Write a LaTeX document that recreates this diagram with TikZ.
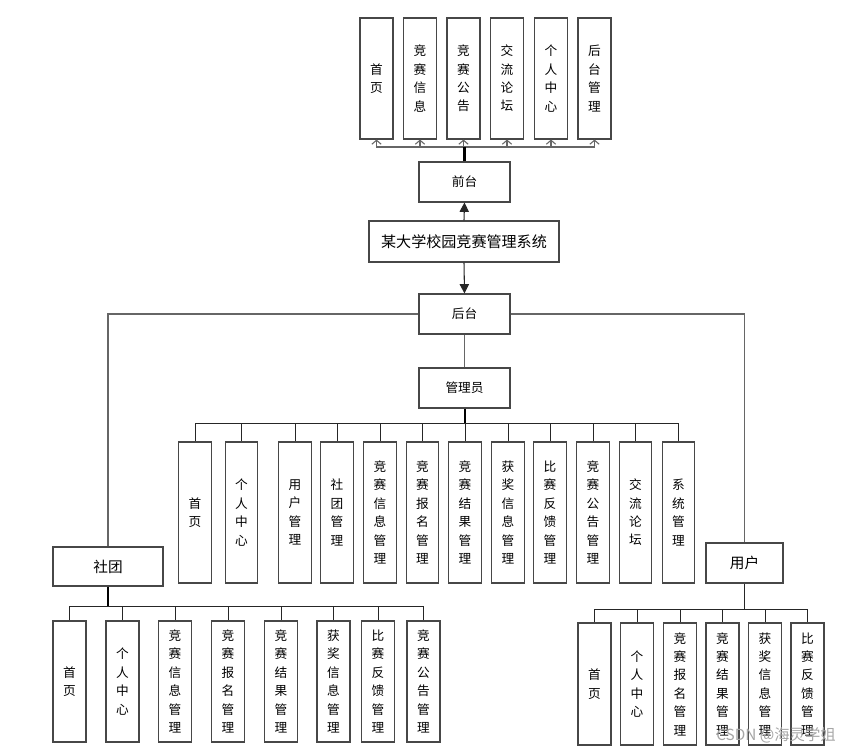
\documentclass[tikz,border=0pt]{standalone}
\usepackage{fontspec}
\setmainfont{Noto Sans CJK SC}
\usetikzlibrary{arrows.meta,calc}
\begin{document}
\begin{tikzpicture}[x=0.75pt,y=-0.75pt,
  box/.style={draw=black!72,line width=0.8pt,fill=white,inner sep=0pt,align=center,
    font=\fontsize{9.5}{13.8}\selectfont},
  topbox/.style={box,minimum width=24.75pt,minimum height=90.75pt},
  adminbox/.style={box,minimum width=24.4pt,minimum height=105.75pt},
  clubbox/.style={box,minimum width=24.75pt,minimum height=90.75pt},
  userbox/.style={box,minimum width=24.75pt,minimum height=91.5pt},
  midbox/.style={box,minimum width=68.25pt,minimum height=30pt},
  conn/.style={draw=black!85,line width=0.75pt},
  busline/.style={draw=black!60,line width=0.9pt},
  uparrow/.style={draw=black!60,line width=0.8pt,-{Straight Barb[length=3pt,width=7pt]}},
  mainarrow/.style={draw=black!85,line width=0.8pt,-{Triangle[length=7pt,width=7pt]}}
]
\useasboundingbox (0,0) rectangle (867,753);

% top row
\node[topbox] (t1) at (376.5,78.5) {首\\页};
\node[topbox] (t2) at (420,78.5) {竞\\赛\\信\\息};
\node[topbox] (t3) at (463.5,78.5) {竞\\赛\\公\\告};
\node[topbox] (t4) at (507,78.5) {交\\流\\论\\坛};
\node[topbox] (t5) at (551,78.5) {个\\人\\中\\心};
\node[topbox] (t6) at (594.5,78.5) {后\\台\\管\\理};

\node[midbox] (qt) at (464.5,182) {前台};
\node[box,minimum width=142.5pt,minimum height=30.75pt,font=\fontsize{11.3}{13}\selectfont] (sys) at (464,241.5) {某大学校园竞赛管理系统};
\node[midbox] (ht) at (464.5,314) {后台};
\node[midbox] (gl) at (464.5,388) {管理员};

% admin row
\node[adminbox] (a1) at (195,512.5) {首\\页};
\node[adminbox] (a2) at (241.5,512.5) {个\\人\\中\\心};
\node[adminbox] (a3) at (295,512.5) {用\\户\\管\\理};
\node[adminbox] (a4) at (337,512.5) {社\\团\\管\\理};
\node[adminbox] (a5) at (380,512.5) {竞\\赛\\信\\息\\管\\理};
\node[adminbox] (a6) at (422.5,512.5) {竞\\赛\\报\\名\\管\\理};
\node[adminbox] (a7) at (465,512.5) {竞\\赛\\结\\果\\管\\理};
\node[adminbox] (a8) at (508,512.5) {获\\奖\\信\\息\\管\\理};
\node[adminbox] (a9) at (550,512.5) {比\\赛\\反\\馈\\管\\理};
\node[adminbox] (a10) at (593,512.5) {竞\\赛\\公\\告\\管\\理};
\node[adminbox] (a11) at (635.5,512.5) {交\\流\\论\\坛};
\node[adminbox] (a12) at (678.5,512.5) {系\\统\\管\\理};

% club
\node[box,minimum width=82.5pt,minimum height=29.25pt,font=\fontsize{11}{13}\selectfont] (st) at (108,566.5) {社团};
\node[clubbox] (s1) at (69.5,681.5) {首\\页};
\node[clubbox] (s2) at (122.5,681.5) {个\\人\\中\\心};
\node[clubbox] (s3) at (175,681.5) {竞\\赛\\信\\息\\管\\理};
\node[clubbox] (s4) at (228,681.5) {竞\\赛\\报\\名\\管\\理};
\node[clubbox] (s5) at (281,681.5) {竞\\赛\\结\\果\\管\\理};
\node[clubbox] (s6) at (333.5,681.5) {获\\奖\\信\\息\\管\\理};
\node[clubbox] (s7) at (378,681.5) {比\\赛\\反\\馈\\管\\理};
\node[clubbox] (s8) at (423.5,681.5) {竞\\赛\\公\\告\\管\\理};

% user
\node[box,minimum width=57.75pt,minimum height=30pt,font=\fontsize{11}{13}\selectfont] (yh) at (744.5,563) {用户};
\node[userbox] (u1) at (594.5,684) {首\\页};
\node[userbox] (u2) at (637,684) {个\\人\\中\\心};
\node[userbox] (u3) at (680,684) {竞\\赛\\报\\名\\管\\理};
\node[userbox] (u4) at (722.5,684) {竞\\赛\\结\\果\\管\\理};
\node[userbox] (u5) at (765,684) {获\\奖\\信\\息\\管\\理};
\node[userbox] (u6) at (807.5,684) {比\\赛\\反\\馈\\管\\理};

% connectors: top
\coordinate (tb) at (464.5,147);
\foreach \t in {t1,t2,t3,t4,t5,t6}{\draw[uparrow] (tb) -| (\t.south);}
\draw[black,line width=1.8pt] (qt.north) -- (tb);
\draw[mainarrow] (sys.north) -- (qt.south);
\draw[mainarrow] (sys.south) -- (ht.north);

% back end
\draw[busline] (ht.west) -| (st.north);
\draw[busline] (ht.east) -| (yh.north);
\draw[busline] (ht.south) -- (gl.north);

% admin bus
\coordinate (ab) at (464.5,423);
\draw[black,line width=1.5pt] (gl.south) -- (ab);
\foreach \a in {a1,a2,a3,a4,a5,a6,a7,a8,a9,a10,a11,a12}{\draw[conn] (ab) -| (\a.north);}

% club bus
\coordinate (sb) at (108,606);
\draw[black,line width=1.5pt] (st.south) -- (sb);
\foreach \s in {s1,s2,s3,s4,s5,s6,s7,s8}{\draw[conn] (sb) -| (\s.north);}

% user bus
\coordinate (ub) at (744.5,609);
\draw[conn] (yh.south) -- (ub);
\foreach \u in {u1,u2,u3,u4,u5,u6}{\draw[conn] (ub) -| (\u.north);}

% watermark
\node[anchor=west,text=black!35,font=\fontsize{11.5}{13}\selectfont,inner sep=0pt] (wm) at (716,735) {CSDN @海灵学姐};
\end{tikzpicture}
\end{document}
